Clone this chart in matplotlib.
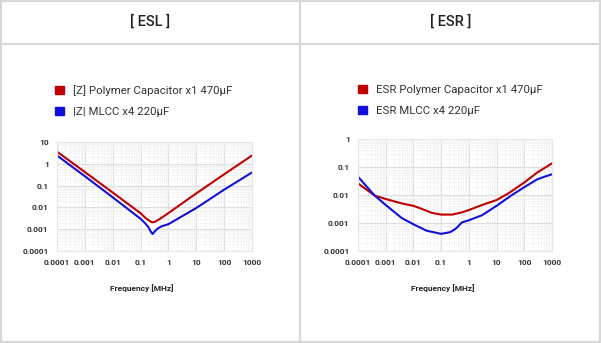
import numpy as np
import matplotlib.pyplot as plt
from matplotlib.lines import Line2D
from matplotlib.patches import Patch

# ESL panel: |Z| vs frequency (MHz)
esl_freq_red = [1e-4, 1e-3, 1e-2, 0.1, 0.15, 0.2, 0.25, 0.3, 0.35, 0.5, 1, 10, 100, 1000]
esl_z_red = [3.6, 0.42, 0.048, 0.0054, 0.0033, 0.0025, 0.0021, 0.0021, 0.0023, 0.003, 0.0055, 0.044, 0.33, 2.4]
esl_freq_blue = [1e-4, 1e-3, 1e-2, 0.1, 0.15, 0.19, 0.23, 0.27, 0.31, 0.37, 0.45, 0.56, 1, 10, 100, 1000]
esl_z_blue = [2.4, 0.27, 0.029, 0.003, 0.0018, 0.00125, 0.0008, 0.0006, 0.00075, 0.00095, 0.00115, 0.00135, 0.0017, 0.0094, 0.065, 0.4]

# ESR panel
esr_freq_red = [1e-4, 4e-4, 1e-3, 0.0038, 0.01, 0.02, 0.046, 0.1, 0.25, 0.56, 1, 3, 10, 27, 100, 290, 1000]
esr_r_red = [0.026, 0.0095, 0.0072, 0.005, 0.0041, 0.0032, 0.0023, 0.002, 0.002, 0.0024, 0.0029, 0.0044, 0.0066, 0.0115, 0.028, 0.063, 0.135]
esr_freq_blue = [1e-4, 4e-4, 1e-3, 0.0038, 0.01, 0.03, 0.1, 0.21, 0.3, 0.37, 0.56, 1, 3, 10, 36, 100, 290, 440, 1000]
esr_r_blue = [0.045, 0.0095, 0.0044, 0.0015, 0.0009, 0.00053, 0.00041, 0.00047, 0.00058, 0.00068, 0.00105, 0.00125, 0.0019, 0.0041, 0.01, 0.019, 0.036, 0.042, 0.055]

xticks = [1e-4, 1e-3, 1e-2, 1e-1, 1, 10, 100, 1000]
xticklabels = ['0.0001', '0.001', '0.01', '0.1', '1', '10', '100', '1000']
esl_yticks = [1e-4, 1e-3, 1e-2, 1e-1, 1, 10]
esl_yticklabels = ['0.0001', '0.001', '0.01', '0.1', '1', '10']
esr_yticks = [1e-4, 1e-3, 1e-2, 1e-1, 1]
esr_yticklabels = ['0.0001', '0.001', '0.01', '0.1', '1']

RED = '#c00000'
BLUE = '#1010d8'
W, H = 601, 343

fig = plt.figure(figsize=(W / 100, H / 100), dpi=100)

# frame lines
frame_c = '#d8d8d8'
for xs, ys in [([1, 1], [0, H]), ([W - 1, W - 1], [0, H]), ([0, W], [1, 1]),
               ([0, W], [H - 1, H - 1]), ([300, 300], [0, H]), ([0, W], [44, 44])]:
    fig.add_artist(Line2D([x / W for x in xs], [1 - y / H for y in ys],
                          color=frame_c, lw=1.5, transform=fig.transFigure))


def setup(ax, yticks, yticklabels, ylim):
    ax.set_xscale('log')
    ax.set_yscale('log')
    ax.set_xlim(1e-4, 1e3)
    ax.set_ylim(*ylim)
    ax.set_xticks(xticks)
    ax.set_xticklabels(xticklabels)
    ax.set_yticks(yticks)
    ax.set_yticklabels(yticklabels)
    ax.grid(which='major', color='#dedede', lw=0.8)
    ax.grid(which='minor', color='#f2f2f2', lw=0.5)
    ax.tick_params(which='both', length=0, labelsize=6, labelcolor='#333333', pad=6)
    for lab in ax.get_xticklabels() + ax.get_yticklabels():
        lab.set_fontweight('bold')
        lab.set_family('Roboto')
    for s in ax.spines.values():
        s.set_color('#e6e6e6')
        s.set_linewidth(0.8)
    ax.set_axisbelow(True)


ax1 = fig.add_axes([57 / W, 1 - 251 / H, 195 / W, 109 / H])
setup(ax1, esl_yticks, esl_yticklabels, (1e-4, 10))
ax1.plot(esl_freq_red, esl_z_red, color=RED, lw=1.5)
ax1.plot(esl_freq_blue, esl_z_blue, color=BLUE, lw=1.5)

ax2 = fig.add_axes([358 / W, 1 - 251 / H, 194 / W, 112 / H])
setup(ax2, esr_yticks, esr_yticklabels, (1e-4, 1))
ax2.plot(esr_freq_red, esr_r_red, color=RED, lw=1.5)
ax2.plot(esr_freq_blue, esr_r_blue, color=BLUE, lw=1.5)

# titles
fig.text(150 / W, 1 - 22 / H, '[ ESL ]', ha='center', va='center', fontsize=10.5,
         family='Roboto', fontweight='medium', color='#222222')
fig.text(451 / W, 1 - 22 / H, '[ ESR ]', ha='center', va='center', fontsize=10.5,
         family='Roboto', fontweight='medium', color='#222222')

# x labels
fig.text(142 / W, 1 - 288 / H, 'Frequency [MHz]', ha='center', va='center',
         fontsize=6, fontweight='bold', family='Roboto', color='#222222')
fig.text(443 / W, 1 - 288 / H, 'Frequency [MHz]', ha='center', va='center',
         fontsize=6, fontweight='bold', family='Roboto', color='#222222')

# legends
for x0, labels in [(55, ['[Z] Polymer Capacitor x1 470µF', '|Z| MLCC x4 220µF']),
                   (358, ['ESR Polymer Capacitor x1 470µF', 'ESR MLCC x4 220µF'])]:
    handles = [Patch(facecolor=RED, edgecolor=RED), Patch(facecolor=BLUE, edgecolor=BLUE)]
    fig.legend(handles, labels, loc='upper left', bbox_to_anchor=(x0 / W, 1 - 85 / H),
               frameon=False, borderpad=0, borderaxespad=0, handlelength=0.75,
               handleheight=0.75, handletextpad=0.8, labelspacing=0.95,
               prop={'family': 'Roboto', 'size': 8.2}, labelcolor='#333333')

fig.savefig('out.png', dpi=100)
